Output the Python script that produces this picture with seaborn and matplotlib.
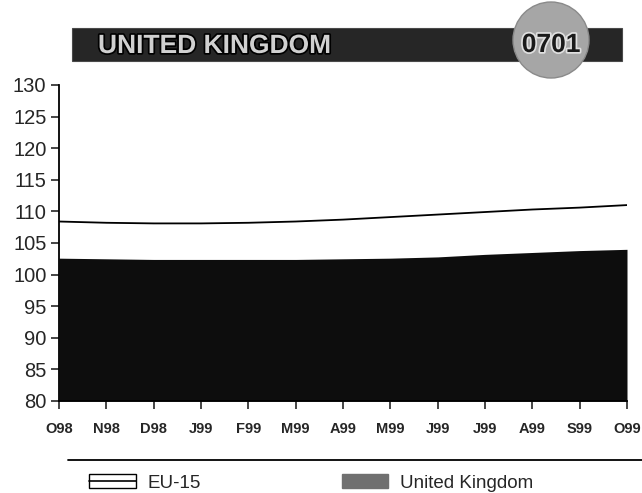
import numpy as np
import pandas as pd
import matplotlib
matplotlib.use('Agg')
import matplotlib.pyplot as plt
import seaborn as sns
from matplotlib.patches import Rectangle, Circle, Patch
from matplotlib.lines import Line2D
from matplotlib.legend_handler import HandlerTuple
import matplotlib.patheffects as pe

# Datos
months = ['O98', 'N98', 'D98', 'J99', 'F99', 'M99', 'A99', 'M99', 'J99', 'J99', 'A99', 'S99', 'O99']
eu15 = [108.4, 108.2, 108.1, 108.1, 108.2, 108.4, 108.7, 109.1, 109.5, 109.9, 110.3, 110.6, 111.0]
uk = [102.6, 102.5, 102.4, 102.4, 102.4, 102.4, 102.5, 102.6, 102.8, 103.2, 103.5, 103.8, 104.0]
title = 'UNITED KINGDOM'
code = '0701'

df = pd.DataFrame({'pos': np.arange(len(months)), 'EU-15': eu15, 'United Kingdom': uk})

sns.set_style('ticks')
plt.rcParams['font.family'] = ['Liberation Sans', 'DejaVu Sans']

fig = plt.figure(figsize=(6.42, 4.93), dpi=100)
ax = fig.add_axes([59/642, 1-401/493, (627-59)/642, (401-85)/493])

ax.fill_between(df['pos'], 80, df['United Kingdom'], color='#0d0d0d', linewidth=0)
sns.lineplot(data=df, x='pos', y='EU-15', ax=ax, color='black', linewidth=1.3)

ax.set_xlim(0, len(months)-1)
ax.set_ylim(80, 130)
ax.set_yticks(np.arange(80, 131, 5))
ax.set_xticks(df['pos'])
ax.set_xticklabels(months, fontsize=10.5, fontweight='bold')
ax.tick_params(axis='y', labelsize=14.5, length=6, width=1.2, pad=3)
ax.tick_params(axis='x', length=6, width=1.2, pad=9)
ax.set_xlabel('')
ax.set_ylabel('')
for s in ['top', 'right']:
    ax.spines[s].set_visible(False)
for s in ['left', 'bottom']:
    ax.spines[s].set_linewidth(1.3)
    ax.spines[s].set_color('black')

# Banner
bx = fig.add_axes([0, 1-80/493, 1, 80/493])
bx.set_xlim(0, 642)
bx.set_ylim(80, 0)
bx.axis('off')
bx.add_patch(Rectangle((72, 28), 550, 33, facecolor='#262626', edgecolor='#4a4a4a', lw=0.8))
bx.text(98, 46, title, fontsize=19, fontweight='bold', family=['Liberation Sans Narrow', 'Liberation Sans'],
        color='#d0d0d0', va='center', ha='left',
        path_effects=[pe.withStroke(linewidth=2.5, foreground='black')])
bx.add_patch(Circle((551, 40), 38, facecolor='#a6a6a6', edgecolor='#8a8a8a', lw=1))
bx.text(551, 45, code, fontsize=19, fontweight='bold', family=['Liberation Sans Narrow', 'Liberation Sans'],
        color='#1a1a1a', ha='center', va='center',
        path_effects=[pe.withStroke(linewidth=2.5, foreground='#e0e0e0')])

# Leyenda
fig.add_artist(Line2D([68/642, 1.0], [1-460/493, 1-460/493], color='black', lw=1.3))
eu_handle = (Patch(facecolor='white', edgecolor='black', linewidth=1.0),
             Line2D([], [], color='black', lw=1.2))
uk_handle = Patch(facecolor='#707070', edgecolor='#707070')
fig.legend(handles=[eu_handle, uk_handle], labels=['EU-15', 'United Kingdom'],
           handler_map={tuple: HandlerTuple(ndivide=1, pad=0)},
           loc='center left', bbox_to_anchor=(80/642, 1-483/493), ncol=2, borderpad=0,
           frameon=False, fontsize=13.5, handlelength=2.5, handleheight=0.7,
           columnspacing=7.5, handletextpad=0.6)

fig.savefig('out.png', dpi=100)
